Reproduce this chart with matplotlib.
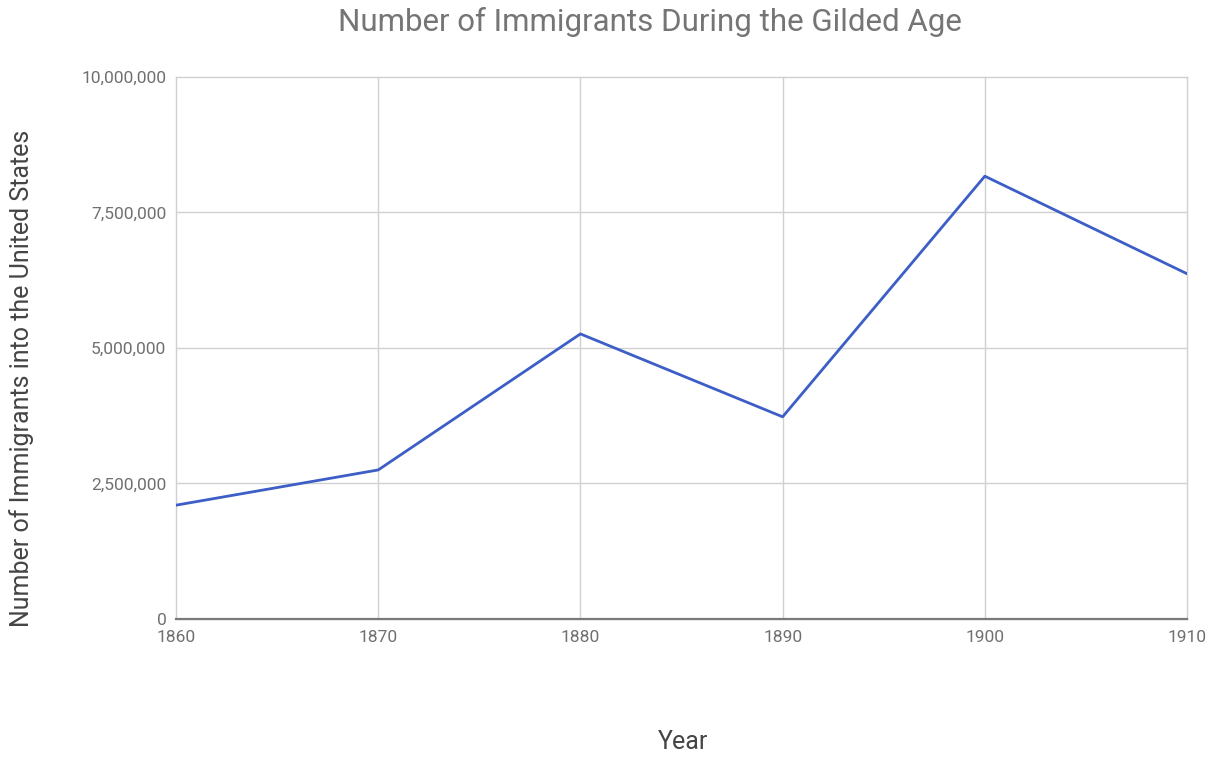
import matplotlib.pyplot as plt
from matplotlib.ticker import FuncFormatter

plt.rcParams['font.family'] = ['Roboto', 'DejaVu Sans']

years = [1860, 1870, 1880, 1890, 1900, 1910]
immigrants = [2100000, 2750000, 5260000, 3730000, 8170000, 6370000]
y_ticks = [0, 2500000, 5000000, 7500000, 10000000]

fig = plt.figure(figsize=(12.13, 7.57), dpi=100)
ax = fig.add_axes([0.1451, 0.1823, 0.8335, 0.716])

ax.plot(years, immigrants, color='#3c5ec6', linewidth=2.0, zorder=3)

ax.set_xlim(1860, 1910)
ax.set_ylim(0, 10000000)
ax.set_xticks(years)
ax.set_yticks(y_ticks)
ax.yaxis.set_major_formatter(FuncFormatter(lambda v, p: f"{int(v):,}"))

ax.grid(True, color='#d0d0d0', linewidth=1.0)
for gl in ax.get_xgridlines() + ax.get_ygridlines():
    gl.set_clip_on(False)
for s in ['top', 'right', 'left']:
    ax.spines[s].set_visible(False)
ax.spines['bottom'].set_color('#7a7a7a')
ax.spines['bottom'].set_linewidth(1.6)
ax.spines['bottom'].set_zorder(4)

ax.tick_params(axis='both', length=0, colors='#707070', labelsize=12.5)
ax.tick_params(axis='x', pad=8)
ax.tick_params(axis='y', pad=7)

fig.text(0.536, 0.971, "Number of Immigrants During the Gilded Age",
         ha='center', va='center', fontsize=22.5, color='#757575')
fig.text(0.563, 0.02, "Year", ha='center', va='center', fontsize=18, color='#444444')
fig.text(0.018, 0.5, "Number of Immigrants into the United States",
         ha='center', va='center', rotation=90, fontsize=18, color='#444444')

fig.savefig("out.png", dpi=100, facecolor='white')
